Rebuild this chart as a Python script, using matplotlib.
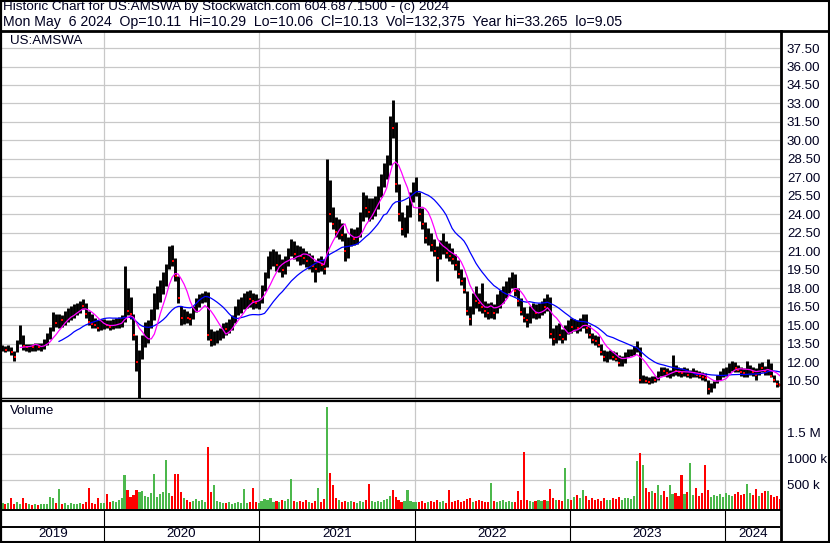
import numpy as np
import pandas as pd
import matplotlib
matplotlib.use('Agg')
import matplotlib.pyplot as plt
from matplotlib.lines import Line2D
from matplotlib.ticker import FixedLocator

plt.rcParams['font.family'] = ['Liberation Sans', 'DejaVu Sans']

# weekly bars, US:AMSWA, May 2019 - May 2024
start_date = '2019-05-08'
week_high = [
    13.4, 13.3, 13.4, 13.2, 12.9, 13.8, 15.0, 14.2, 13.5, 13.5,
    13.5, 13.6, 13.6, 13.6, 13.9, 14.4, 14.9, 16.1, 15.9, 15.9,
    15.8, 16.2, 16.4, 16.6, 16.7, 16.8, 17.0, 17.1, 16.8, 16.2,
    15.9, 15.6, 15.4, 15.5, 15.5, 15.4, 15.4, 15.5, 15.6, 15.7,
    15.8, 19.8, 18.0, 17.3, 15.9, 14.2, 13.0, 14.2, 15.3, 15.4,
    16.3, 17.6, 18.2, 18.7, 19.3, 20.0, 21.4, 21.5, 20.5, 19.0,
    16.6, 16.3, 16.2, 16.0, 16.6, 17.2, 17.5, 17.6, 17.8, 17.7,
    14.7, 14.5, 14.6, 14.8, 15.2, 15.3, 15.5, 15.8, 16.6, 17.1,
    17.3, 17.6, 17.8, 17.9, 17.6, 17.5, 17.2, 18.3, 19.3, 20.6,
    21.0, 21.2, 21.0, 20.8, 20.4, 20.6, 21.3, 22.0, 21.8, 21.5,
    21.4, 21.3, 21.0, 20.9, 20.7, 20.2, 20.5, 20.6, 20.4, 28.5,
    26.8, 24.6, 23.8, 23.6, 23.3, 22.5, 22.2, 22.9, 22.8, 23.0,
    24.2, 25.8, 25.6, 25.3, 25.3, 25.5, 26.3, 27.3, 28.2, 28.8,
    32.0, 33.265, 31.5, 26.5, 24.2, 23.8, 24.8, 25.8, 26.6, 27.0,
    25.8, 24.5, 23.4, 22.9, 22.5, 22.0, 21.4, 21.9, 22.5, 21.8,
    21.7, 21.3, 20.8, 20.3, 19.6, 18.9, 17.8, 16.6, 17.6, 18.2,
    17.6, 18.4, 17.0, 16.8, 16.9, 16.7, 17.5, 17.9, 18.2, 18.6,
    18.9, 19.3, 19.2, 18.0, 17.2, 16.5, 16.0, 16.6, 16.8, 16.7,
    16.8, 17.0, 17.2, 17.5, 17.3, 14.8, 15.0, 15.2, 14.7, 15.0,
    15.4, 15.6, 15.5, 15.4, 15.6, 15.9, 15.9, 15.0, 14.4, 14.2,
    14.1, 13.5, 13.0, 12.9, 13.0, 12.9, 12.8, 12.6, 12.5, 12.8,
    13.1, 13.1, 13.3, 13.7, 13.2, 11.0, 10.9, 10.8, 10.9, 10.9,
    11.3, 11.6, 11.6, 11.5, 11.4, 12.6, 11.8, 11.6, 11.5, 11.6,
    11.5, 11.4, 11.5, 11.4, 11.3, 11.2, 11.1, 10.6, 10.3, 10.5,
    11.0, 11.3, 11.5, 11.6, 11.9, 12.1, 12.0, 11.8, 11.6, 11.5,
    12.1, 11.8, 11.6, 11.5, 11.9, 12.0, 11.7, 12.3, 11.9, 11.0, 10.6, 10.29]
week_low = [
    12.9, 12.8, 12.9, 12.6, 12.1, 12.8, 13.5, 13.0, 12.9, 12.8,
    12.9, 12.9, 13.0, 12.9, 13.1, 13.4, 13.9, 14.5, 14.9, 14.8,
    14.9, 15.0, 15.3, 15.4, 15.6, 15.8, 16.0, 16.3, 15.6, 15.0,
    14.8, 14.8, 14.5, 14.6, 14.7, 14.8, 14.6, 14.7, 14.8, 14.8,
    14.9, 15.3, 15.8, 15.5, 13.8, 11.3, 9.05, 12.3, 13.2, 13.6,
    14.8, 15.4, 16.3, 16.9, 17.5, 18.2, 19.6, 19.8, 18.6, 16.8,
    15.0, 15.1, 15.2, 15.0, 15.5, 16.1, 16.5, 16.8, 16.9, 13.8,
    13.3, 13.4, 13.6, 13.8, 14.0, 14.2, 14.4, 14.6, 15.2, 15.8,
    16.0, 16.3, 16.4, 16.5, 16.3, 16.4, 16.3, 16.8, 17.8, 18.8,
    19.6, 19.8, 19.4, 19.3, 18.9, 19.2, 19.8, 20.6, 20.4, 20.2,
    19.9, 20.0, 19.7, 19.6, 19.3, 18.5, 19.3, 19.4, 19.2, 19.7,
    23.4, 22.8, 22.2, 22.0, 21.8, 20.2, 20.5, 21.4, 21.5, 21.6,
    22.2, 23.5, 23.8, 23.5, 23.6, 23.9, 24.4, 25.4, 26.2, 26.9,
    28.0, 30.2, 25.8, 23.5, 22.3, 22.2, 22.5, 23.8, 25.0, 25.5,
    23.5, 22.8, 21.7, 21.5, 21.0, 20.6, 18.6, 20.4, 20.8, 20.5,
    20.2, 20.0, 19.5, 18.8, 18.3, 17.6, 15.8, 15.05, 15.9, 16.4,
    16.2, 16.0, 15.7, 15.5, 15.6, 15.5, 16.0, 16.4, 16.8, 17.2,
    17.6, 18.0, 17.4, 16.6, 15.8, 15.3, 14.9, 15.2, 15.6, 15.5,
    15.6, 15.8, 16.0, 16.2, 14.0, 13.4, 13.6, 13.8, 13.6, 13.8,
    14.3, 14.4, 14.5, 14.4, 14.5, 14.8, 14.4, 14.0, 13.6, 13.4,
    13.2, 12.6, 12.1, 12.0, 12.3, 12.2, 12.1, 11.7, 11.7, 11.9,
    12.4, 12.5, 12.6, 12.8, 10.3, 10.3, 10.3, 10.2, 10.3, 10.4,
    10.6, 10.9, 10.9, 10.8, 10.7, 10.9, 11.0, 10.9, 10.8, 10.9,
    10.8, 10.7, 10.8, 10.8, 10.7, 10.6, 10.5, 9.4, 9.6, 9.9,
    10.3, 10.6, 10.8, 10.9, 11.1, 11.3, 11.2, 11.2, 10.9, 10.8,
    10.8, 11.0, 10.9, 10.6, 11.0, 11.2, 11.0, 11.0, 10.8, 10.4, 10.0, 10.06]
week_close = [
    13.1, 13.0, 13.2, 12.8, 12.4, 13.6, 14.3, 13.3, 13.2, 13.3,
    13.2, 13.3, 13.2, 13.4, 13.7, 14.2, 14.6, 15.4, 15.2, 15.5,
    15.4, 15.9, 16.0, 16.2, 16.4, 16.5, 16.7, 16.6, 15.9, 15.3,
    15.1, 15.0, 14.8, 15.0, 15.1, 15.0, 14.9, 15.1, 15.2, 15.3,
    15.5, 17.2, 16.2, 15.9, 14.2, 12.0, 12.2, 13.6, 14.6, 14.8,
    15.9, 16.9, 17.5, 18.3, 18.9, 19.7, 20.8, 20.2, 19.0, 17.2,
    15.6, 15.8, 15.6, 15.5, 16.3, 16.9, 17.2, 17.3, 17.4, 14.2,
    13.8, 13.9, 14.1, 14.5, 14.8, 14.7, 15.2, 15.5, 16.3, 16.5,
    16.8, 17.0, 17.2, 17.1, 17.0, 16.8, 16.9, 18.0, 19.1, 20.2,
    20.3, 20.6, 19.9, 20.1, 19.5, 20.3, 21.0, 21.3, 20.8, 21.0,
    20.6, 20.5, 20.2, 20.3, 19.8, 19.6, 20.0, 19.9, 19.6, 26.5,
    24.0, 23.2, 22.6, 23.0, 22.3, 21.0, 21.8, 22.3, 22.0, 22.5,
    23.8, 25.0, 24.5, 24.2, 24.8, 25.1, 25.8, 26.9, 27.7, 28.4,
    31.5, 31.0, 26.5, 24.0, 22.8, 23.0, 24.3, 25.4, 26.0, 26.2,
    24.0, 23.2, 22.1, 22.2, 21.5, 21.0, 20.5, 21.2, 21.5, 20.9,
    20.6, 20.4, 19.9, 19.2, 18.6, 17.9, 16.2, 15.5, 17.2, 17.0,
    16.8, 16.5, 16.2, 16.0, 16.4, 16.0, 17.2, 17.5, 17.8, 18.3,
    18.5, 18.8, 17.8, 17.0, 16.1, 15.6, 15.4, 16.2, 16.3, 16.0,
    16.4, 16.6, 16.5, 17.0, 14.3, 13.9, 14.5, 14.2, 13.9, 14.6,
    15.0, 14.9, 15.0, 14.8, 15.2, 15.3, 14.8, 14.2, 13.8, 13.7,
    13.4, 12.8, 12.4, 12.5, 12.6, 12.4, 12.3, 11.9, 12.0, 12.5,
    12.8, 12.9, 13.0, 13.3, 10.6, 10.7, 10.5, 10.4, 10.7, 10.6,
    11.1, 11.4, 11.3, 11.1, 11.2, 11.4, 11.3, 11.2, 11.1, 11.3,
    11.0, 11.1, 11.2, 11.0, 10.9, 10.8, 10.7, 9.8, 10.0, 10.3,
    10.8, 11.1, 11.3, 11.4, 11.7, 11.8, 11.5, 11.4, 11.2, 11.1,
    11.3, 11.5, 11.2, 11.0, 11.6, 11.5, 11.3, 11.8, 10.9, 10.6, 10.2, 10.13]
# volume in thousands of shares
week_volume = [
    60, 40, 70, 166, 50, 80, 40, 155, 60, 50,
    30, 40, 25, 50, 35, 45, 185, 150, 60, 330,
    40, 55, 30, 60, 45, 35, 70, 50, 80, 350,
    60, 45, 166, 70, 55, 230, 90, 110, 80, 120,
    150, 600, 310, 180, 220, 310, 280, 300, 200, 170,
    250, 620, 180, 230, 280, 890, 260, 200, 620, 620,
    280, 150, 120, 90, 110, 140, 100, 130, 90, 1150,
    280, 410, 100, 80, 70, 60, 90, 50, 70, 80,
    60, 340, 70, 90, 360, 80, 60, 100, 140, 120,
    150, 90, 110, 80, 120, 100, 140, 525, 100, 90,
    110, 80, 120, 90, 70, 100, 360, 90, 140, 1915,
    645, 410, 150, 120, 90, 100, 80, 110, 90, 70,
    100, 90, 120, 430, 110, 90, 100, 80, 120, 140,
    200, 310, 180, 120, 90, 110, 320, 100, 80, 90,
    80, 100, 70, 90, 110, 80, 120, 90, 100, 60,
    310, 80, 100, 120, 90, 110, 140, 160, 90, 100,
    120, 110, 80, 90, 450, 100, 80, 110, 120, 90,
    100, 80, 90, 300, 120, 1040, 130, 100, 90, 110,
    120, 100, 130, 110, 340, 150, 120, 130, 110, 730,
    140, 120, 180, 220, 150, 320, 200, 130, 160, 120,
    140, 110, 150, 130, 120, 160, 140, 180, 130, 150,
    160, 140, 200, 870, 1030, 790, 360, 280, 300, 250,
    400, 220, 300, 180, 410, 240, 260, 200, 600, 230,
    280, 840, 220, 360, 200, 250, 794, 310, 180, 220,
    200, 240, 180, 260, 220, 200, 240, 280, 210, 230,
    430, 250, 220, 330, 200, 260, 300, 300, 220, 180, 200, 132]

price_ticks = [10.5 + 1.5 * k for k in range(19)]
vol_ticks = [500000, 1000000, 1500000]
vol_tick_labels = ['500 k', '1000 k', '1.5 M']
years = [2019, 2020, 2021, 2022, 2023, 2024]

title_1 = 'Historic Chart for US:AMSWA by Stockwatch.com 604.687.1500 - (c) 2024'
title_2 = ('Mon May  6 2024  Op=10.11  Hi=10.29  Lo=10.06  Cl=10.13  '
           'Vol=132,375  Year hi=33.265  lo=9.05')

dates = pd.date_range(start_date, periods=len(week_close), freq='7D')
df = pd.DataFrame({'high': week_high, 'low': week_low, 'close': week_close,
                   'vol': np.array(week_volume) * 1000.0}, index=dates)
df['ma_fast'] = df['close'].rolling(7).mean()
df['ma_slow'] = df['close'].rolling(20).mean()
chg = df['close'].diff().fillna(1)

W, H = 830, 543
fig = plt.figure(figsize=(W / 100, H / 100), dpi=100)


def px_axes(x0, y0, x1, y1):
    return fig.add_axes([x0 / W, 1 - y1 / H, (x1 - x0) / W, (y1 - y0) / H])


# date range shown (155.4 px per year, 2020-01-01 at x=103.7)
def px_date(x):
    return pd.Timestamp('2020-01-01') + pd.Timedelta(days=(x - 103.7) * 365.25 / 155.4)


x_left, x_right = 2, 780
xlim = (px_date(x_left), px_date(x_right))
year_starts = [pd.Timestamp(f'{y}-01-01') for y in years[1:]]
grid_c = '#c8c8c8'
txt_c = '#000020'
fs = 9.6

# price panel
ax = px_axes(x_left, 32, x_right, 398)
ax.set_xlim(*xlim)
ax.set_ylim(9.1, 38.8)
for d in year_starts:
    ax.axvline(d, color=grid_c, lw=0.9, zorder=0)
for p in price_ticks:
    ax.axhline(p, color=grid_c, lw=0.9, zorder=0)
ax.vlines(df.index, df['low'], df['high'], color='black', lw=2.1, zorder=2)
down = df[chg < 0]
ax.plot(down.index + pd.Timedelta(days=1), down['close'], 's', ms=1.7,
        mew=0, color='red', zorder=3)
ax.plot(df.index, df['ma_slow'], color='#0000ff', lw=0.9, zorder=4)
ax.plot(df.index, df['ma_fast'], color='#ff00ff', lw=0.9, zorder=5)
ax.yaxis.tick_right()
ax.yaxis.set_major_locator(FixedLocator(price_ticks))
ax.set_yticklabels([f'{p:.2f}' for p in price_ticks])
ax.tick_params(axis='y', length=0, pad=5, labelsize=fs, labelcolor=txt_c)
ax.set_xticks([])
for s in ax.spines.values():
    s.set_visible(False)
ax.text(8 / (x_right - x_left), 1 - 3 / 366, 'US:AMSWA', transform=ax.transAxes,
        ha='left', va='top', fontsize=fs, color=txt_c)

# volume panel
vmin, vmax = -52000, 2006000
axv = px_axes(x_left, 402, x_right, 509)
axv.set_xlim(*xlim)
axv.set_ylim(vmin, vmax)
for d in year_starts:
    axv.axvline(d, color=grid_c, lw=0.9, zorder=0)
for v in vol_ticks:
    axv.axhline(v, color=grid_c, lw=0.9, zorder=0)
colors = np.where(chg > 0, '#4cb84c', np.where(chg < 0, '#ff0000', '#a0a0a0'))
axv.bar(df.index, df['vol'] - vmin, bottom=vmin, width=5.0, color=colors,
        linewidth=0, zorder=2)
axv.yaxis.tick_right()
axv.yaxis.set_major_locator(FixedLocator(vol_ticks))
axv.set_yticklabels(vol_tick_labels, va='top')
axv.tick_params(axis='y', length=0, pad=5, labelsize=fs, labelcolor=txt_c)
axv.set_xticks([])
for s in axv.spines.values():
    s.set_visible(False)
axv.text(8 / (x_right - x_left), 1 - 3 / 107, 'Volume', transform=axv.transAxes,
         ha='left', va='top', fontsize=fs, color=txt_c)

# year label strip
axy = px_axes(x_left, 511, x_right, 541)
axy.set_xlim(*xlim)
axy.set_ylim(0, 1)
axy.axis('off')
for d in year_starts:
    axy.axvline(d, color='black', lw=0.8)
axy.axhline(0.47, color='black', lw=1.4)
edges = [xlim[0]] + year_starts + [xlim[1]]
for y, a, b in zip(years, edges[:-1], edges[1:]):
    axy.text(a + (b - a) / 2, 0.22, str(y), ha='center', va='center',
             fontsize=fs, color=txt_c)

# header and frame lines
fig.text(3 / W, 1 - 1 / H, title_1, ha='left', va='top', fontsize=9.7, color=txt_c)
fig.text(3 / W, 1 - 15 / H, title_2, ha='left', va='top', fontsize=10.2, color=txt_c)


def hline(y, x0, x1, lw):
    fig.add_artist(Line2D([x0 / W, x1 / W], [1 - y / H, 1 - y / H], color='black', lw=lw))


def vline(x, y0, y1, lw):
    fig.add_artist(Line2D([x / W, x / W], [1 - y0 / H, 1 - y1 / H], color='black', lw=lw))


hline(0.5, 0, W, 1.5)
hline(31, 0, W, 2)
hline(397.5, 0, x_right, 1)
hline(401, 0, x_right, 1.6)
hline(509.5, 0, x_right, 1.4)
hline(542, 0, W, 1.5)
vline(0.8, 0, H, 1.6)
vline(781, 31, H, 2)
vline(829, 0, H, 1.5)

fig.savefig('out.png', dpi=100)
